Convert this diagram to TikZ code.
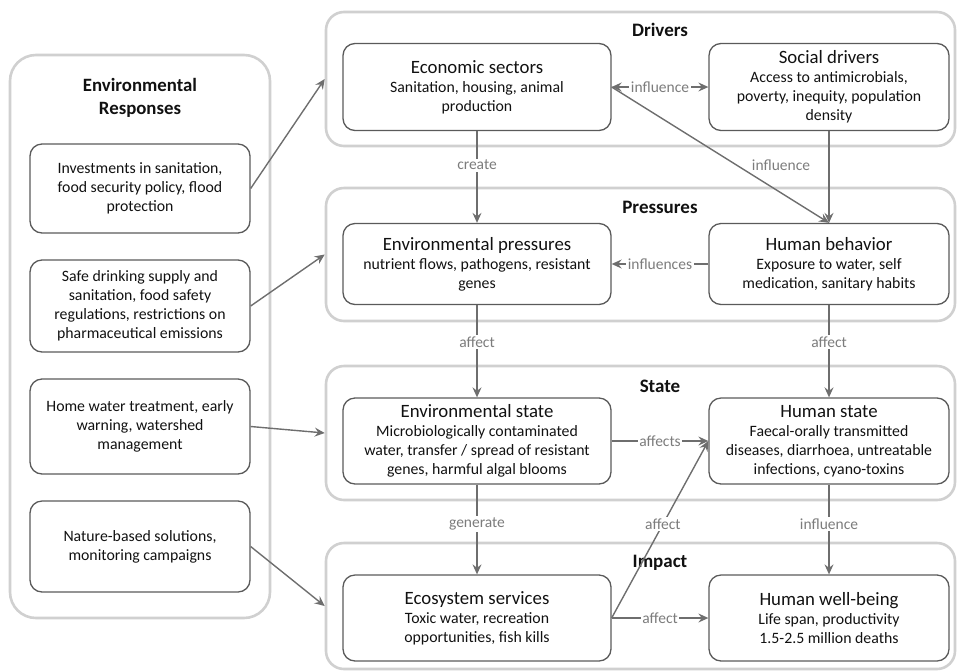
\documentclass[tikz,border=0pt]{standalone}
\usepackage{fontspec}
\setmainfont{Carlito}
\usetikzlibrary{arrows.meta}
\definecolor{grp}{HTML}{D0D0D0}
\definecolor{bx}{HTML}{5A5A5A}
\definecolor{arr}{HTML}{6E6E6E}
\definecolor{lblc}{HTML}{7C7C7C}
\definecolor{txt}{HTML}{111111}
\newcommand{\btitle}[1]{{\fontsize{18.8}{19}\selectfont #1}}
\begin{document}
\begin{tikzpicture}[x=1pt,y=-1pt,
  grpbox/.style={draw=grp,line width=2.6pt,rounded corners=18pt,minimum width=629pt,inner sep=0pt},
  respbox/.style={draw=bx,line width=1.3pt,rounded corners=12pt,align=center,inner sep=0pt,
    text=txt,minimum width=220pt,font=\fontsize{15.8}{19}\selectfont},
  lbox/.style={draw=bx,line width=1.3pt,rounded corners=12pt,align=center,inner sep=0pt,
    text=txt,minimum width=268pt,font=\fontsize{15.8}{19}\selectfont},
  rbox/.style={lbox,minimum width=240pt},
  gtitle/.style={text=txt,font=\fontsize{19}{20}\selectfont\bfseries,inner sep=0pt},
  conn/.style={draw=arr,line width=1.4pt,-{Stealth[length=10pt,width=9pt,inset=3.5pt]}},
  lbl/.style={fill=white,text=lblc,font=\fontsize{15.5}{17}\selectfont,inner sep=1.5pt}]
\useasboundingbox (0,0) rectangle (957,670);

% left outer box
\node[draw=grp,line width=2.6pt,rounded corners=26pt,minimum width=260pt,minimum height=563pt,inner sep=0pt] (resp) at (140,336.5) {};
\node[gtitle,align=center,font=\fontsize{18.8}{23}\selectfont\bfseries] (resptitle) at (140,97.5) {Environmental\\Responses};

% groups
\node[grpbox,minimum height=134pt] (drivers) at (640.5,79) {};
\node[grpbox,minimum height=133pt] (pressures) at (640.5,254.5) {};
\node[grpbox,minimum height=134pt] (state) at (640.5,433) {};
\node[grpbox,minimum height=126pt] (impact) at (640.5,606) {};
\node[gtitle] (tdrivers) at (660,30) {Drivers};
\node[gtitle] (tpressures) at (660,207) {Pressures};
\node[gtitle] (tstate) at (660,386) {State};
\node[gtitle] (timpact) at (660,563) {Impact};

% response boxes
\node[respbox,minimum height=89pt] (r1) at (140,188.5) {Investments in sanitation,\\food security policy, flood\\protection};
\node[respbox,minimum height=92pt] (r2) at (140,306) {Safe drinking supply and\\sanitation, food safety\\regulations, restrictions on\\pharmaceutical emissions};
\node[respbox,minimum height=95pt] (r3) at (140,426.5) {Home water treatment, early\\warning, watershed\\management};
\node[respbox,minimum height=91pt] (r4) at (140,546.5) {Nature-based solutions,\\monitoring campaigns};

% inner boxes
\node[lbox,minimum height=87pt] (eco) at (477,87) {\btitle{Economic sectors}\\Sanitation, housing, animal\\production};
\node[rbox,minimum height=87pt] (soc) at (829,87) {\btitle{Social drivers}\\Access to antimicrobials,\\poverty, inequity, population\\density};
\node[lbox,minimum height=81pt] (envp) at (477,264) {\btitle{Environmental pressures}\\nutrient flows, pathogens, resistant\\genes};
\node[rbox,minimum height=81pt] (hb) at (829,264) {\btitle{Human behavior}\\Exposure to water, self\\medication, sanitary habits};
\node[lbox,minimum height=86pt] (envs) at (477,441) {\btitle{Environmental state}\\Microbiologically contaminated\\water, transfer / spread of resistant\\genes, harmful algal blooms};
\node[rbox,minimum height=86pt] (hs) at (829,441) {\btitle{Human state}\\Faecal-orally transmitted\\diseases, diarrhoea, untreatable\\infections, cyano-toxins};
\node[lbox,minimum height=86pt] (ecs) at (477,618) {\btitle{Ecosystem services}\\Toxic water, recreation\\opportunities, fish kills};
\node[rbox,minimum height=86pt] (hw) at (829,618) {\btitle{Human well-being}\\Life span, productivity\\1.5-2.5 million deaths};

% response arrows
\draw[conn] (r1.east) -- (drivers.west);
\draw[conn] (r2.east) -- (pressures.west);
\draw[conn] (r3.east) -- (state.west);
\draw[conn] (r4.east) -- (impact.west);

% internal connectors
\draw[conn,{Stealth[length=10pt,width=9pt,inset=3.5pt]}-{Stealth[length=10pt,width=9pt,inset=3.5pt]}] (eco.east) -- node[lbl] {influence} (soc.west);
\draw[conn] (eco.east) -- (hb.north);
\draw[conn] (soc.south) -- (hb.north);
\node[text=lblc,font=\fontsize{15.5}{17}\selectfont,inner sep=0pt] (infl) at (781,165) {influence};
\draw[conn] (eco.south) -- node[lbl,pos=0.37] {create} (envp.north);
\draw[conn] (hb.west) -- node[lbl] {influences} (envp.east);
\draw[conn] (envp.south) -- node[lbl,pos=0.40] {affect} (envs.north);
\draw[conn] (hb.south) -- node[lbl,pos=0.40] {affect} (hs.north);
\draw[conn] (envs.east) -- node[lbl] {affects} (hs.west);
\draw[conn] (envs.south) -- node[lbl,pos=0.44] {generate} (ecs.north);
\draw[conn] (hs.south) -- node[lbl,pos=0.44] {influence} (hw.north);
\draw[conn] (ecs.east) -- node[lbl,pos=0.53] {affect} (hs.west);
\draw[conn] (ecs.east) -- node[lbl] {affect} (hw.west);
\end{tikzpicture}
\end{document}
